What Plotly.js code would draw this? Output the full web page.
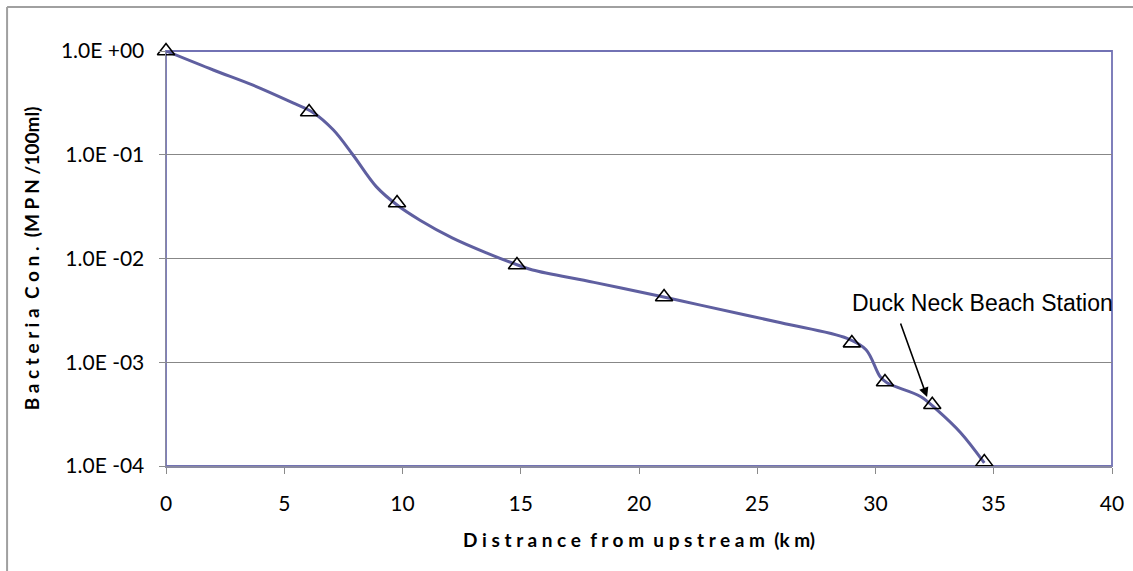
<!DOCTYPE html>
<html>
<head>
<meta charset="utf-8">
<script src="https://cdn.plot.ly/plotly-3.0.1.min.js"></script>
<style>
html,body{margin:0;padding:0;background:#fff;}
#chart{width:1133px;height:571px;}
</style>
</head>
<body>
<div id="chart"></div>
<script>
// Model curve (distance km, concentration)
const modelX = [0, 2.0, 3.68, 5.37, 6.2, 7.07, 7.9, 8.9, 9.8, 10.74, 12.1, 13.6, 14.84, 15.5, 18.1, 21.0, 22.6, 26.0, 28.8, 29.6, 30.2, 30.5, 31.9, 32.6, 33.6, 34.6];
const modelY = [1.0, 0.656, 0.468, 0.316, 0.257, 0.174, 0.100, 0.049, 0.0324, 0.0234, 0.0158, 0.0112, 0.0087, 0.00776, 0.00589, 0.00427, 0.00355, 0.0024, 0.0017, 0.00132, 0.000724, 0.00063, 0.000468, 0.000347, 0.000209, 0.000107];
// Observed stations
const obsX = [0, 6.05, 9.77, 14.84, 21.06, 29.0, 30.4, 32.4, 34.6];
const obsY = [1.0, 0.258, 0.0343, 0.00865, 0.00426, 0.00153, 0.000645, 0.000389, 0.000109];
// Axis ticks
const xTicks = [0, 5, 10, 15, 20, 25, 30, 35, 40];
const yTickVals = [1e-4, 1e-3, 1e-2, 1e-1, 1];
const yTickText = ["1.0E -04", "1.0E -03", "1.0E -02", "1.0E -01", "1.0E +00"];
// Annotation
const stationLabel = "Duck Neck Beach Station";
const stationX = 32.18;
const stationY = 4.62e-4;

const tickFont = {family: "Lato, 'Open Sans', sans-serif", size: 21, color: "#000"};
const titleFont = {family: "Lato, 'Open Sans', sans-serif", size: 19, color: "#000", weight: "bold"};

const traces = [
  {
    x: modelX, y: modelY, type: "scatter", mode: "lines",
    line: {color: "#5f5fa0", width: 3, shape: "spline", smoothing: 1},
    hoverinfo: "skip", showlegend: false
  },
  {
    x: obsX, y: obsY, type: "scatter", mode: "markers",
    marker: {symbol: "triangle-up-open", size: 15, color: "#000", line: {color: "#000", width: 1.6}},
    showlegend: false, cliponaxis: false
  }
];

const layout = {
  width: 1133, height: 571,
  margin: {l: 166, r: 21, t: 51, b: 105},
  paper_bgcolor: "#fff", plot_bgcolor: "#fff",
  showlegend: false,
  xaxis: {
    range: [0, 40], tickvals: xTicks, ticktext: xTicks.map(String),
    showgrid: false, zeroline: false,
    showline: true, linecolor: "#8a8aa0", linewidth: 1.5,
    ticks: "outside", ticklen: 6, tickcolor: "#8a8a8a", tickwidth: 1,
    ticklabelstandoff: 12,
    tickfont: tickFont,
    title: {text: "D i s t r a n c e  f r o m  u p s t r e a m  (k m)", font: titleFont, standoff: 20}
  },
  yaxis: {
    type: "log", range: [-4, 0],
    tickvals: yTickVals, ticktext: yTickText,
    showgrid: true, gridcolor: "#878787", gridwidth: 1,
    zeroline: false,
    showline: true, linecolor: "#8a8aa0", linewidth: 1.5,
    ticks: "outside", ticklen: 6, tickcolor: "#8a8a8a", tickwidth: 1,
    ticklabelstandoff: 10,
    tickfont: tickFont,
    title: {text: "B a c t e r i a  C o n .  (M P N /100ml)", font: titleFont, standoff: 16}
  },
  shapes: [
    {type: "rect", xref: "paper", yref: "paper", x0: 0, x1: 1, y0: 0, y1: 1,
     line: {color: "#7272b4", width: 1.8}, layer: "below"},
    {type: "line", xref: "paper", yref: "paper", x0: -0.168, x1: 1.05, y0: 1.106, y1: 1.106,
     line: {color: "#a0a0a0", width: 2}},
    {type: "line", xref: "paper", yref: "paper", x0: -0.168, x1: -0.168, y0: 1.106, y1: -0.3,
     line: {color: "#a0a0a0", width: 2}}
  ],
  annotations: [
    {x: stationX, y: Math.log10(stationY), xref: "x", yref: "y",
     text: "", showarrow: true, ax: -27, ay: -75,
     arrowhead: 2, arrowsize: 1.2, arrowwidth: 1.6, arrowcolor: "#000"},
    {x: 0.723, y: 0.393, xref: "paper", yref: "paper", xanchor: "left", yanchor: "middle",
     text: stationLabel, showarrow: false,
     font: {family: "'Liberation Sans', Arial, sans-serif", size: 23, color: "#000"}}
  ]
};

Plotly.newPlot("chart", traces, layout, {displayModeBar: false, staticPlot: true});
</script>
</body>
</html>
